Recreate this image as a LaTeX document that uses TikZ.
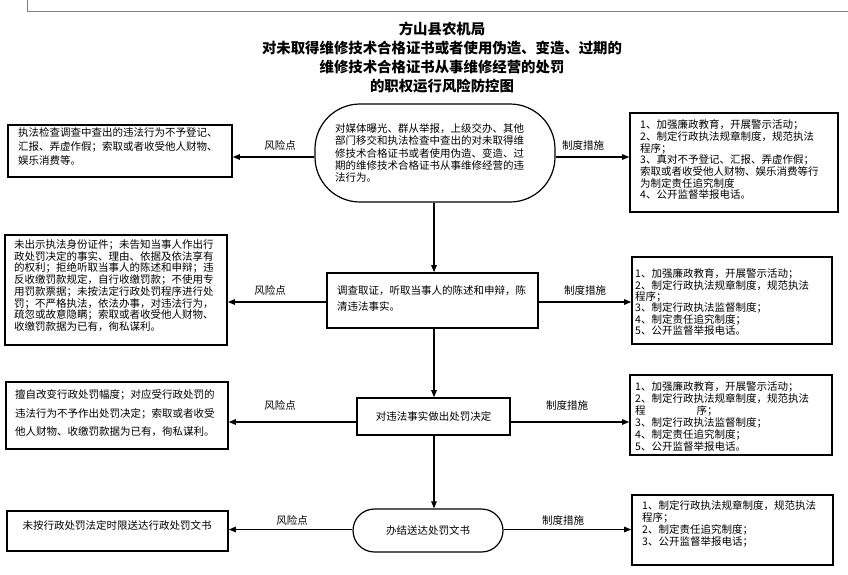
\documentclass[tikz,border=0pt]{standalone}
\usepackage{fontspec}
\setmainfont{Noto Sans CJK SC}
\usetikzlibrary{arrows.meta}

\tikzset{
  box/.style={draw, line width=1.6pt, inner sep=0pt},
  oval/.style={draw, line width=1.2pt, inner sep=0pt},
  txt/.style={anchor=north west, inner sep=0pt, align=left, font=\fontsize{10.5}{#1}\selectfont},
  lbl/.style={inner sep=0pt, font=\fontsize{10.5}{12}\selectfont},
  arr/.style={line width=1.1pt, -{Triangle[length=7pt,width=5.5pt]}},
  title/.style={anchor=north, inner sep=0pt, align=center, font=\fontsize{14.4}{19}\selectfont\bfseries}
}

\begin{document}
\begin{tikzpicture}[x=1pt,y=-1pt]
  \useasboundingbox (0,0) rectangle (848,574);

  % Draw page mark
  \draw [gray, line width=0.8pt] (27,0) -- (27,11) -- (848,11);

  % Draw title
  \node [title] (T) at (442,21.5) {方山县农机局\\对未取得维修技术合格证书或者使用伪造、变造、过期的\\维修技术合格证书从事维修经营的处罚\\的职权运行风险防控图};

  % Draw steps
  \node [oval, rounded corners=45pt, minimum width=240pt, minimum height=98pt] (S1) at (435,153) {};
  \node [txt=12.25] (S1t) at (335,123.5) {对媒体曝光、群从举报，上级交办、其他\\部门移交和执法检查中查出的对未取得维\\修技术合格证书或者使用伪造、变造、过\\期的维修技术合格证书从事维修经营的违\\法行为。};

  \node [box, minimum width=211pt, minimum height=55pt] (B2) at (432.5,300.5) {};
  \node [txt=16] (B2t) at (337,285.5) {调查取证，听取当事人的陈述和申辩，陈\\清违法事实。};

  \node [box, minimum width=153pt, minimum height=37pt, font=\fontsize{10.5}{12}\selectfont] (B3) at (433.5,416.5) {对违法事实做出处罚决定};

  \node [oval, rounded corners=21.5pt, minimum width=150pt, minimum height=43pt, font=\fontsize{10.5}{12}\selectfont] (S4) at (428,530.5) {办结送达处罚文书};

  % Draw risk points
  \node [box, minimum width=224pt, minimum height=52pt] (R1) at (120,151) {};
  \node [txt=14] (R1t) at (18,127.5) {执法检查调查中查出的违法行为不予登记、\\汇报、弄虚作假；索取或者收受他人财物、\\娱乐消费等。};

  \node [box, minimum width=222pt, minimum height=110pt] (R2) at (116,290) {};
  \node [txt=11.7] (R2t) at (14,239.5) {未出示执法身份证件；未告知当事人作出行\\政处罚决定的事实、理由、依据及依法享有\\的权利；拒绝听取当事人的陈述和申辩；违\\反收缴罚款规定，自行收缴罚款；不使用专\\用罚款票据；未按法定行政处罚程序进行处\\罚；不严格执法，依法办事，对违法行为，\\疏忽或故意隐瞒；索取或者收受他人财物、\\收缴罚款据为已有，徇私谋利。};

  \node [box, minimum width=222pt, minimum height=67pt] (R3) at (117,415.5) {};
  \node [txt=18.5] (R3t) at (15,389.5) {擅自改变行政处罚幅度；对应受行政处罚的\\违法行为不予作出处罚决定；索取或者收受\\他人财物、收缴罚款据为已有，徇私谋利。};

  \node [box, minimum width=221pt, minimum height=40pt] (R4) at (117.5,531) {};
  \node [lbl] (R4t) at (117,525) {未按行政处罚法定时限送达行政处罚文书};

  % Draw measures
  \node [box, minimum width=208pt, minimum height=99pt] (C1) at (734,162.5) {};
  \node [txt=11.7] (C1t) at (640,119.5) {1、加强廉政教育，开展警示活动；\\2、制定行政执法规章制度，规范执法\\程序；\\3、真对不予登记、汇报、弄虚作假；\\索取或者收受他人财物、娱乐消费等行\\为制定责任追究制度\\4、公开监督举报电话。};

  \node [box, minimum width=200pt, minimum height=87pt] (C2) at (732,300.5) {};
  \node [txt=9.6] (C2t) at (635,268.5) {1、加强廉政教育，开展警示活动；\\2、制定行政执法规章制度，规范执法\\程序；\\3、制定行政执法监督制度；\\4、制定责任追究制度；\\5、公开监督举报电话。};

  \node [box, minimum width=202pt, minimum height=80pt] (C3) at (731,415) {};
  \node [txt=11.9] (C3t) at (635,381.5) {1、加强廉政教育，开展警示活动；\\2、制定行政执法规章制度，规范执法\\程\hspace{51pt}序；\\3、制定行政执法监督制度；\\4、制定责任追究制度；\\5、公开监督举报电话。};

  \node [box, minimum width=201pt, minimum height=70pt] (C4) at (732.5,530) {};
  \node [txt=12] (C4t) at (642,500.5) {1、制定行政执法规章制度，规范执法\\程序；\\2、制定责任追究制度；\\3、公开监督举报电话；};

  % Draw main flow
  \coordinate (X0) at (434,0);
  \draw [arr] (S1.south -| X0) -- (B2.north -| X0);
  \draw [arr] (B2.south -| X0) -- (B3.north -| X0);
  \draw [arr] (B3.south -| X0) -- (S4.north -| X0);

  % Draw side arrows
  \coordinate (Y1) at (0,157);
  \coordinate (Y2) at (0,302);
  \coordinate (Y3) at (0,422);
  \coordinate (Y4) at (0,529.5);
  \foreach \i/\s in {1/S1,2/B2,3/B3,4/S4} {
    \draw [arr] (\s.west |- Y\i) -- (R\i.east |- Y\i);
    \draw [arr] (\s.east |- Y\i) -- (C\i.west |- Y\i);
  }

  % Draw labels
  \node [lbl] (L1) at (280,145) {风险点};
  \node [lbl] (L2) at (270,290) {风险点};
  \node [lbl] (L3) at (280,405) {风险点};
  \node [lbl] (L4) at (292,520) {风险点};
  \node [lbl] (M1) at (583,145) {制度措施};
  \node [lbl] (M2) at (585,290) {制度措施};
  \node [lbl] (M3) at (567,405) {制度措施};
  \node [lbl] (M4) at (563,520) {制度措施};

\end{tikzpicture}
\end{document}
